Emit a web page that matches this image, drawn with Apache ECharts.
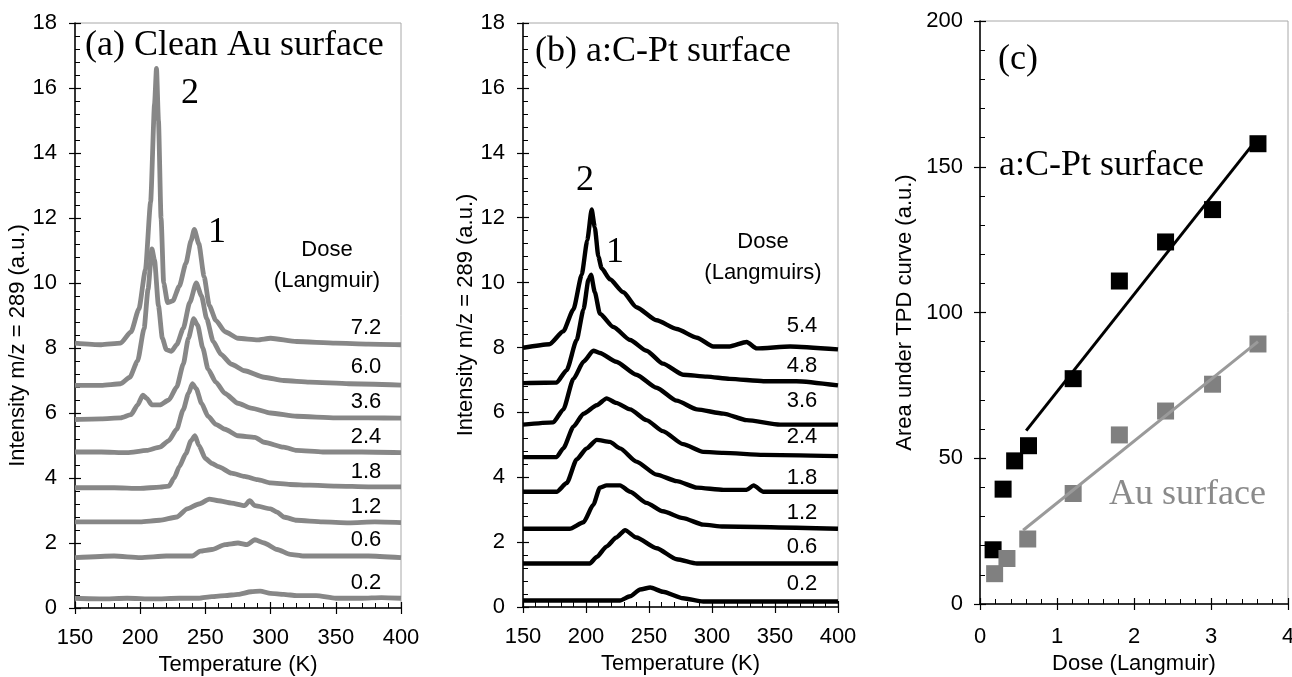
<!DOCTYPE html>
<html>
<head>
<meta charset="UTF-8">
<title>TPD m/z 289</title>
<script src="https://cdn.jsdelivr.net/npm/echarts@6/dist/echarts.min.js"></script>
<style>
html,body{margin:0;padding:0;background:#fff;}
#main{width:1292px;height:677px;}
</style>
</head>
<body>
<div id="main"></div>
<script>
// ---- (a) clean Au surface, [T (K), intensity] ----
var auDoses = ['7.2', '6.0', '3.6', '2.4', '1.8', '1.2', '0.6', '0.2'];
var au72 = [[150,8.15],[170,8.1],[185,8.15],[193,8.5],[199,9.2],[204,10.4],[208,12.5],[211,15.5],[212.5,16.6],[214,15.0],[216,12.0],[218,10.0],[221,9.4],[225,9.45],[230,9.9],[235,10.6],[239,11.3],[241.5,11.65],[245,11.2],[249,10.2],[253,9.3],[258,8.85],[265,8.5],[275,8.3],[290,8.25],[300,8.3],[320,8.2],[350,8.15],[375,8.12],[400,8.1]];
var au60 = [[150,6.85],[170,6.85],[185,6.9],[192,7.1],[198,7.6],[203,8.6],[206,9.8],[209,11.05],[211,10.7],[214,9.3],[217,8.3],[220,7.95],[224,7.9],[228,8.1],[233,8.6],[238,9.4],[243,10.0],[247,9.6],[251,8.9],[256,8.2],[262,7.8],[270,7.5],[280,7.3],[295,7.1],[310,7.0],[330,6.95],[360,6.9],[400,6.86]];
var au36 = [[150,5.8],[170,5.82],[185,5.85],[193,5.95],[198,6.25],[202,6.55],[205,6.45],[209,6.25],[215,6.25],[222,6.4],[228,6.8],[233,7.5],[237,8.3],[241,8.9],[244,8.7],[248,8.0],[252,7.35],[258,6.95],[265,6.6],[275,6.3],[285,6.15],[300,6.0],[320,5.9],[350,5.85],[375,5.85],[400,5.84]];
var au24 = [[150,4.8],[170,4.8],[190,4.78],[205,4.85],[215,4.95],[222,5.15],[228,5.5],[233,6.1],[237,6.6],[240,6.9],[243,6.75],[247,6.3],[252,5.9],[258,5.65],[265,5.5],[275,5.3],[288,5.25],[295,5.1],[310,4.95],[320,4.85],[340,4.8],[370,4.8],[400,4.78]];
var au18 = [[150,3.7],[180,3.7],[200,3.68],[215,3.72],[222,3.75],[226,4.0],[230,4.35],[235,4.75],[239,5.15],[242,5.3],[245,5.0],[250,4.6],[255,4.45],[260,4.35],[270,4.15],[280,4.05],[290,3.95],[300,3.85],[315,3.8],[330,3.78],[350,3.75],[375,3.73],[400,3.73]];
var au12 = [[150,2.65],[180,2.65],[200,2.65],[215,2.7],[228,2.8],[236,3.05],[245,3.2],[253,3.35],[260,3.3],[270,3.23],[280,3.15],[284,3.3],[288,3.15],[300,3.05],[305,2.95],[310,2.8],[320,2.7],[340,2.65],[360,2.62],[380,2.65],[400,2.63]];
var au06 = [[150,1.55],[180,1.6],[200,1.55],[220,1.6],[240,1.6],[246,1.75],[255,1.8],[265,1.95],[275,2.0],[282,1.95],[288,2.1],[295,2.0],[305,1.8],[315,1.65],[325,1.6],[350,1.6],[375,1.6],[400,1.55]];
var au02 = [[150,0.3],[170,0.28],[190,0.3],[210,0.28],[230,0.3],[245,0.3],[255,0.35],[265,0.38],[275,0.42],[285,0.5],[292,0.52],[300,0.45],[310,0.42],[320,0.38],[335,0.38],[350,0.3],[370,0.3],[385,0.32],[400,0.3]];

// ---- (b) a:C-Pt surface ----
var ptDoses = ['5.4', '4.8', '3.6', '2.4', '1.8', '1.2', '0.6', '0.2'];
var pt54 = [[150,7.99],[171,8.1],[182,8.5],[190,9.17],[196.6,10.24],[201,11.3],[204.5,12.25],[207,11.7],[209.8,10.8],[212.4,10.44],[219,10.1],[229.6,9.7],[240,9.24],[256,8.84],[272,8.57],[288,8.3],[301,8.03],[314,8.03],[327.5,8.17],[335.5,7.97],[362,8.03],[400,7.94]];
var pt48 = [[150,6.9],[176.7,6.92],[184.7,7.3],[192.6,8.23],[198,9.17],[202,10.1],[204,10.24],[207,9.7],[211,9.04],[221.7,8.63],[235,8.23],[248,7.9],[261,7.5],[277,7.16],[296,7.1],[314,7.03],[340.8,6.96],[367,6.96],[400,6.83]];
var pt36 = [[150,5.62],[174,5.69],[182,6.09],[190,7.03],[198,7.56],[205.8,7.9],[211,7.83],[224,7.56],[240,7.16],[256,6.76],[272,6.36],[288,6.09],[309,5.96],[327.5,5.76],[354,5.62],[400,5.62]];
var pt24 = [[150,4.62],[176.7,4.62],[182,4.89],[190,5.56],[198,5.96],[208.5,6.22],[216.4,6.43],[224,6.29],[235,6.09],[248,5.76],[261,5.42],[277,5.02],[293,4.78],[309,4.75],[340.8,4.69],[400,4.65]];
var pt18 = [[150,3.55],[176.7,3.55],[184.7,3.82],[192.6,4.55],[200.5,4.89],[208.5,5.15],[219,5.09],[227,4.89],[240,4.48],[256,4.08],[272,3.88],[288,3.68],[309,3.61],[327.5,3.61],[333,3.75],[340.8,3.55],[400,3.55]];
var pt12 = [[150,2.41],[187,2.41],[198,2.61],[205.8,3.15],[211,3.68],[216.4,3.75],[227,3.75],[235,3.55],[248,3.21],[261,2.95],[277,2.74],[293,2.54],[309,2.48],[400,2.41]];
var pt06 = [[150,1.34],[203,1.34],[208.5,1.54],[216.4,1.87],[224,2.14],[231,2.37],[240,2.14],[256,1.81],[272,1.47],[288,1.34],[309,1.34],[400,1.34]];
var pt02 = [[150,0.2],[227,0.2],[235,0.33],[243,0.54],[251,0.6],[261,0.47],[277,0.27],[293,0.17],[400,0.17]];

// ---- (c) area under TPD curve vs dose ----
var ptArea = [[0.17,18.6],[0.30,39.4],[0.45,49.1],[0.63,54.3],[1.21,77.3],[1.81,110.8],[2.41,124.2],[3.02,135.3],[3.61,157.9]];
var auArea = [[0.19,10.4],[0.35,15.6],[0.62,22.3],[1.21,37.9],[1.81,58.0],[2.41,66.2],[3.02,75.4],[3.61,89.2]];
var ptFit = [[0.6,59.5],[3.61,159.9]];
var auFit = [[0.56,25.3],[3.61,90.0]];

var SANS = '"Liberation Sans", Arial, sans-serif';
var SERIF = '"Liberation Serif", "Times New Roman", serif';
var GRAY = '#878787';
var FS = 22;

var grids = [
    {left: 75, top: 23, width: 326, height: 585},
    {left: 523, top: 23, width: 315, height: 584},
    {left: 980, top: 21, width: 308, height: 583}
];
grids.forEach(function (g) {
    g.show = true;
    g.borderColor = '#a8a8a8';
    g.borderWidth = 1;
    g.containLabel = false;
    g.outerBoundsMode = 'none';
});

function labelStyle(margin) {
    return {color: '#000', fontFamily: SANS, fontSize: FS, margin: margin};
}
function nameStyle(padding) {
    return {color: '#000', fontFamily: SANS, fontSize: FS, padding: padding || 0};
}

// main axis: line, labels, inner ticks + minor ticks
function mainAxis(grid, min, max, interval, extra) {
    var ax = {
        gridIndex: grid, type: 'value', min: min, max: max, interval: interval,
        splitLine: {show: false},
        axisLine: {show: true, onZero: false, lineStyle: {color: '#000', width: 1.5}},
        axisTick: {show: true, inside: true, length: 6, lineStyle: {color: '#000', width: 1.2}},
        minorTick: {show: true, splitNumber: 5, length: 5, lineStyle: {color: '#000', width: 1}},
        nameLocation: 'middle'
    };
    for (var k in extra) ax[k] = extra[k];
    return ax;
}
// overlay: only the outer half of the major ticks
function tickAxis(grid, min, max, interval, pos) {
    return {
        gridIndex: grid, type: 'value', min: min, max: max, interval: interval, position: pos,
        splitLine: {show: false},
        axisLine: {show: false, onZero: false},
        axisTick: {show: true, inside: false, length: 6, lineStyle: {color: '#000', width: 1.2}},
        axisLabel: {show: false}
    };
}

var xAxes = [
    mainAxis(0, 150, 400, 50, {position: 'bottom', name: 'Temperature (K)', nameGap: 41,
        axisLabel: labelStyle(19), nameTextStyle: nameStyle()}),
    mainAxis(1, 150, 400, 50, {position: 'bottom', name: 'Temperature (K)', nameGap: 41,
        axisLabel: labelStyle(19), nameTextStyle: nameStyle()}),
    mainAxis(2, 0, 4, 1, {position: 'bottom', name: 'Dose (Langmuir)', nameGap: 44,
        axisLabel: labelStyle(22), nameTextStyle: nameStyle()}),
    tickAxis(0, 150, 400, 50, 'bottom'),
    tickAxis(1, 150, 400, 50, 'bottom'),
    tickAxis(2, 0, 4, 1, 'bottom')
];
var yAxes = [
    mainAxis(0, 0, 18, 2, {position: 'left', name: 'Intensity m/z = 289 (a.u.)', nameGap: 43,
        axisLabel: labelStyle(18), nameTextStyle: nameStyle([0, 60, 0, 0])}),
    mainAxis(1, 0, 18, 2, {position: 'left', name: 'Intensity m/z = 289 (a.u.)', nameGap: 46,
        axisLabel: labelStyle(18), nameTextStyle: nameStyle()}),
    mainAxis(2, 0, 200, 50, {position: 'left', name: 'Area under TPD curve (a.u.)', nameGap: 64,
        axisLabel: labelStyle(17), nameTextStyle: nameStyle()}),
    tickAxis(0, 0, 18, 2, 'left'),
    tickAxis(1, 0, 18, 2, 'left'),
    tickAxis(2, 0, 200, 50, 'left')
];

function curve(data, axis, color, width, smooth) {
    return {
        type: 'line', data: data, xAxisIndex: axis, yAxisIndex: axis,
        showSymbol: false, symbol: 'none', silent: true, animation: false,
        smooth: smooth || 0, smoothMonotone: 'x',
        lineStyle: {color: color, width: width, join: 'round'}
    };
}

var series = [];
[au72, au60, au36, au24, au18, au12, au06, au02].forEach(function (d) {
    series.push(curve(d, 0, GRAY, 4.8, 0.2));
});
[pt54, pt48, pt36, pt24, pt18, pt12, pt06, pt02].forEach(function (d) {
    series.push(curve(d, 1, '#000', 4.4, 0.2));
});
series.push(curve(ptFit, 2, '#000', 3));
series.push(curve(auFit, 2, '#9a9a9a', 3));
series.push({type: 'scatter', xAxisIndex: 2, yAxisIndex: 2, data: ptArea, symbol: 'rect', symbolSize: 17,
    itemStyle: {color: '#000', opacity: 1}, animation: false, silent: true});
series.push({type: 'scatter', xAxisIndex: 2, yAxisIndex: 2, data: auArea, symbol: 'rect', symbolSize: 17,
    itemStyle: {color: '#808080', opacity: 1}, animation: false, silent: true});

// text annotations
function txt(s, x, y, font, align, color) {
    return {type: 'text', x: x, y: y, silent: true,
        style: {text: s, font: font, fill: color || '#000', align: align || 'center', verticalAlign: 'middle'}};
}
var big = '36px ' + SERIF;
var small = FS + 'px ' + SANS;
var labels = [
    txt('(a) Clean Au surface', 85, 46, big, 'left'),
    txt('2', 190, 94, big),
    txt('1', 217, 233, big),
    txt('Dose', 327, 250, small),
    txt('(Langmuir)', 327, 281, small),
    txt('(b) a:C-Pt surface', 535, 52, big, 'left'),
    txt('2', 585, 181, big),
    txt('1', 615, 253, big),
    txt('Dose', 763, 242, small),
    txt('(Langmuirs)', 763, 273, small),
    txt('(c)', 1018, 60, big),
    txt('a:C-Pt surface', 999, 166, big, 'left'),
    txt('Au surface', 1109, 495, big, 'left', '#8a8a8a')
];
var auLabelY = [328, 367, 402, 437, 472, 507, 540, 583];
var ptLabelY = [326, 366, 401, 437, 478, 513, 547, 584];
auDoses.forEach(function (d, i) { labels.push(txt(d, 366, auLabelY[i], small)); });
ptDoses.forEach(function (d, i) { labels.push(txt(d, 802, ptLabelY[i], small)); });

var option = {
    backgroundColor: '#fff',
    animation: false,
    grid: grids,
    xAxis: xAxes,
    yAxis: yAxes,
    series: series,
    graphic: labels
};

var myChart = echarts.init(document.getElementById('main'));
myChart.setOption(option);
</script>
</body>
</html>
